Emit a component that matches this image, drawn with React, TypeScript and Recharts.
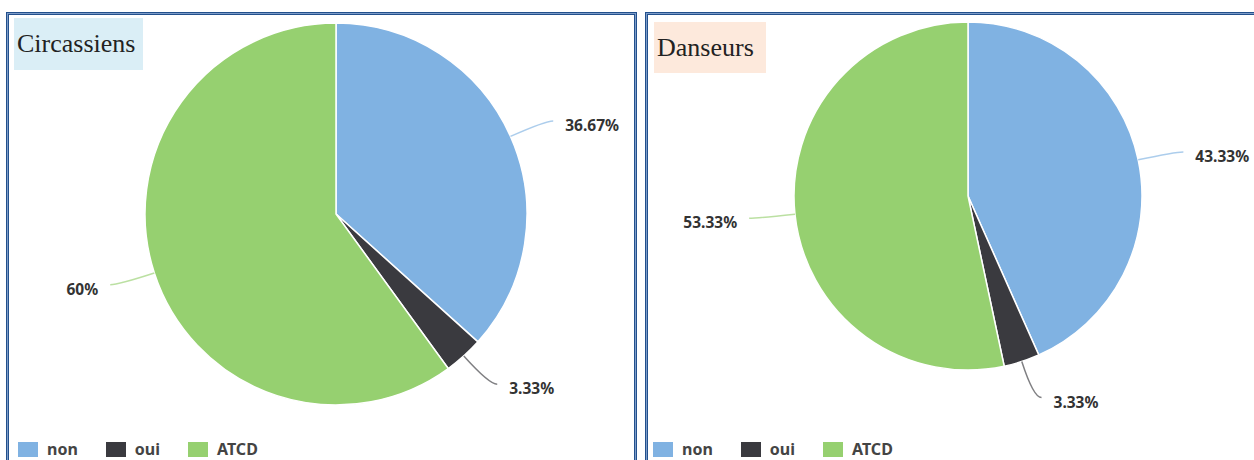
import { PieChart, Pie, Cell, Legend } from 'recharts';

const categories = ['non', 'oui', 'ATCD'];
const circassiensValues = [36.67, 3.33, 60];
const danseursValues = [43.33, 3.33, 53.33];
const colors = ['#80b2e2', '#3a3a3f', '#96d070'];

const RAD = Math.PI / 180;

function PieLabel(props: any) {
  const { cx, cy, midAngle, outerRadius, value, index } = props;
  const cos = Math.cos(-midAngle * RAD);
  const sin = Math.sin(-midAngle * RAD);
  const x1 = cx + outerRadius * cos;
  const y1 = cy + outerRadius * sin;
  const x2 = cx + (outerRadius + 38) * cos;
  const y2 = cy + (outerRadius + 38) * sin;
  const side = cos >= 0 ? 1 : -1;
  const x3 = x2 + side * 8;
  return (
    <g>
      <path
        d={`M${x1},${y1} Q${x2},${y2} ${x3},${y2}`}
        fill="none"
        stroke={colors[index]}
        strokeOpacity={0.65}
        strokeWidth={1.5}
      />
      <text
        x={x3 + side * 12}
        y={y2 + 4}
        textAnchor={side > 0 ? 'start' : 'end'}
        dominantBaseline="central"
        fill="#333"
        fontFamily="'Noto Sans', sans-serif"
        fontWeight={700}
        fontSize={15.5}
      >
        {`${value}%`}
      </text>
    </g>
  );
}

function LegendContent() {
  return (
    <div style={{ display: 'flex', alignItems: 'center', gap: 28, fontFamily: "'Noto Sans', sans-serif", fontWeight: 700, fontSize: 16, color: '#444' }}>
      {categories.map((c, i) => (
        <div key={c} style={{ display: 'flex', alignItems: 'center' }}>
          <span style={{ display: 'inline-block', width: 20, height: 15, background: colors[i], marginRight: 9 }} />
          <span style={{ lineHeight: '15px' }}>{c}</span>
        </div>
      ))}
    </div>
  );
}

interface PanelProps {
  title: string;
  titleBg: string;
  values: number[];
  left: number;
  width: number;
  cx: number;
  cy: number;
  r: number;
  titleBox: { left: number; top: number; width: number; height: number };
  legendLeft: number;
}

function Panel({ title, titleBg, values, left, width, cx, cy, r, titleBox, legendLeft }: PanelProps) {
  const data = categories.map((name, i) => ({ name, value: values[i] }));
  return (
    <div
      style={{
        position: 'absolute',
        left,
        top: 12,
        width,
        height: 470,
        boxSizing: 'border-box',
        border: '1px solid #23508c',
        boxShadow: 'inset 0 0 0 1px #7d9cc8, inset 0 0 0 2px #23508c',
        background: '#fff',
      }}
    >
      <div style={{ position: 'absolute', left: -1, top: -1 }}>
        <PieChart width={width} height={460} margin={{ top: 0, right: 0, bottom: 0, left: 0 }}>
          <Pie
            data={data}
            dataKey="value"
            nameKey="name"
            cx={cx}
            cy={cy}
            outerRadius={r}
            startAngle={90}
            endAngle={-270}
            stroke="#fff"
            strokeWidth={1.5}
            label={PieLabel}
            labelLine={false}
            isAnimationActive={false}
          >
            {data.map((d, i) => (
              <Cell key={d.name} fill={colors[i]} />
            ))}
          </Pie>
          <Legend content={LegendContent} wrapperStyle={{ left: legendLeft, top: 430, width: 'auto', bottom: 'auto' }} />
        </PieChart>
      </div>
      <div
        style={{
          position: 'absolute',
          left: titleBox.left,
          top: titleBox.top,
          width: titleBox.width,
          height: titleBox.height,
          background: titleBg,
          fontFamily: "'Liberation Serif', 'Times New Roman', serif",
          fontSize: 26,
          color: '#222',
          display: 'flex',
          alignItems: 'center',
          paddingLeft: 3,
          boxSizing: 'border-box',
        }}
      >
        {title}
      </div>
    </div>
  );
}

export default function App() {
  return (
    <div style={{ position: 'absolute', left: 0, top: 0, width: 1254, height: 460, overflow: 'hidden', background: '#fff' }}>
      <Panel
        title="Circassiens"
        titleBg="#daeef6"
        values={circassiensValues}
        left={6}
        width={631}
        cx={330}
        cy={202}
        r={191}
        titleBox={{ left: 7, top: 5, width: 129, height: 52 }}
        legendLeft={12}
      />
      <Panel
        title="Danseurs"
        titleBg="#fde9dc"
        values={danseursValues}
        left={645}
        width={615}
        cx={323}
        cy={184}
        r={174}
        titleBox={{ left: 8, top: 9, width: 112, height: 51 }}
        legendLeft={8}
      />
    </div>
  );
}
